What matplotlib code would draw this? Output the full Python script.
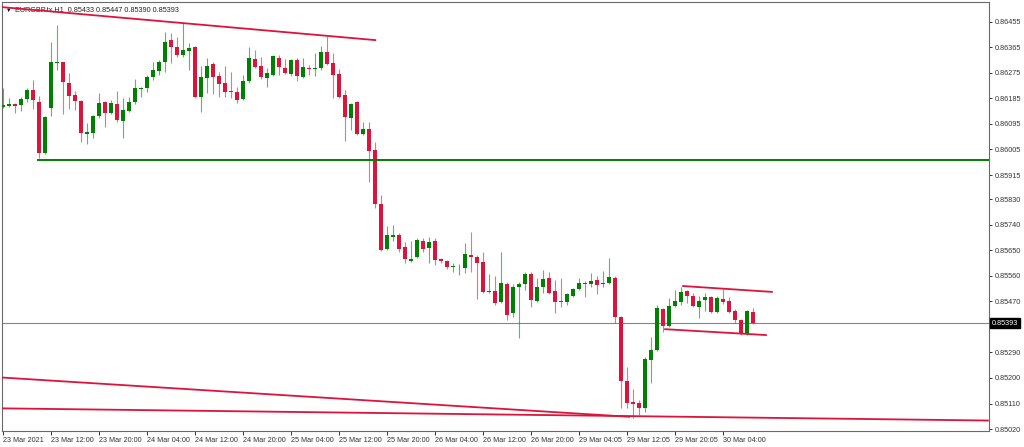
import matplotlib
matplotlib.use("Agg")
import matplotlib.pyplot as plt
import matplotlib.transforms as mtransforms
import numpy as np

# EURGBP H1 candles, bar index 0 = 23 Mar 2021 04:00
opens = [0.86155, 0.86158, 0.86165, 0.86162, 0.86183, 0.86214, 0.86172, 0.85993, 0.86151, 0.86310,
         0.86313, 0.86239, 0.86197, 0.86176, 0.86059, 0.86063, 0.86123, 0.86172, 0.86133, 0.86165,
         0.86105, 0.86140, 0.86172, 0.86218, 0.86221, 0.86260, 0.86281, 0.86313, 0.86391, 0.86366,
         0.86338, 0.86352, 0.86366, 0.86190, 0.86257, 0.86306, 0.86264, 0.86239, 0.86211, 0.86207,
         0.86183, 0.86246, 0.86324, 0.86299, 0.86257, 0.86267, 0.86327, 0.86292, 0.86271, 0.86320,
         0.86260, 0.86292, 0.86288, 0.86292, 0.86348, 0.86310, 0.86271, 0.86197, 0.86116, 0.86172,
         0.86059, 0.86077, 0.86003, 0.85813, 0.85654, 0.85697, 0.85704, 0.85661, 0.85612, 0.85626,
         0.85683, 0.85658, 0.85683, 0.85619, 0.85612, 0.85591, 0.85594, 0.85587, 0.85633, 0.85626,
         0.85609, 0.85503, 0.85506, 0.85468, 0.85531, 0.85429, 0.85520, 0.85531, 0.85566, 0.85471,
         0.85520, 0.85552, 0.85506, 0.85471, 0.85468, 0.85489, 0.85513, 0.85535, 0.85531, 0.85545,
         0.85531, 0.85535, 0.85552, 0.85415, 0.85189, 0.85115, 0.85112, 0.85094, 0.85263, 0.85298,
         0.85443, 0.85383, 0.85454, 0.85468, 0.85506, 0.85489, 0.85450, 0.85475, 0.85485, 0.85432,
         0.85478, 0.85471, 0.85436, 0.85404, 0.85355, 0.85433]
highs = [0.86222, 0.86186, 0.86168, 0.86190, 0.86222, 0.86250, 0.86193, 0.86123, 0.86384, 0.86443,
         0.86313, 0.86274, 0.86211, 0.86179, 0.86098, 0.86126, 0.86204, 0.86176, 0.86179, 0.86211,
         0.86186, 0.86190, 0.86253, 0.86225, 0.86267, 0.86313, 0.86320, 0.86419, 0.86415, 0.86401,
         0.86450, 0.86380, 0.86369, 0.86299, 0.86327, 0.86313, 0.86278, 0.86299, 0.86278, 0.86225,
         0.86267, 0.86366, 0.86355, 0.86331, 0.86292, 0.86338, 0.86338, 0.86324, 0.86324, 0.86327,
         0.86327, 0.86302, 0.86345, 0.86369, 0.86405, 0.86345, 0.86288, 0.86214, 0.86169, 0.86176,
         0.86102, 0.86102, 0.86031, 0.85845, 0.85735, 0.85739, 0.85711, 0.85679, 0.85683, 0.85693,
         0.85693, 0.85697, 0.85693, 0.85623, 0.85616, 0.85605, 0.85601, 0.85675, 0.85714, 0.85633,
         0.85644, 0.85566, 0.85559, 0.85644, 0.85538, 0.85531, 0.85538, 0.85573, 0.85573, 0.85552,
         0.85580, 0.85573, 0.85545, 0.85552, 0.85499, 0.85517, 0.85552, 0.85542, 0.85570, 0.85559,
         0.85577, 0.85623, 0.85559, 0.85418, 0.85238, 0.85161, 0.85122, 0.85273, 0.85344, 0.85457,
         0.85447, 0.85482, 0.85510, 0.85520, 0.85510, 0.85499, 0.85489, 0.85499, 0.85488, 0.85489,
         0.85513, 0.85485, 0.85443, 0.85408, 0.85439, 0.85447]
lows = [0.86151, 0.86155, 0.86133, 0.86140, 0.86172, 0.86148, 0.85975, 0.85988, 0.86123, 0.86285,
        0.86130, 0.86148, 0.86144, 0.86031, 0.86024, 0.86045, 0.86116, 0.86084, 0.86130, 0.86102,
        0.86045, 0.86137, 0.86165, 0.86190, 0.86207, 0.86250, 0.86267, 0.86278, 0.86310, 0.86331,
        0.86331, 0.86285, 0.86186, 0.86137, 0.86204, 0.86200, 0.86190, 0.86190, 0.86186, 0.86169,
        0.86179, 0.86239, 0.86292, 0.86253, 0.86225, 0.86264, 0.86267, 0.86271, 0.86264, 0.86246,
        0.86257, 0.86267, 0.86264, 0.86285, 0.86302, 0.86186, 0.86186, 0.86035, 0.86073, 0.86056,
        0.86056, 0.85890, 0.85799, 0.85647, 0.85651, 0.85683, 0.85644, 0.85605, 0.85609, 0.85623,
        0.85644, 0.85605, 0.85598, 0.85605, 0.85584, 0.85573, 0.85563, 0.85570, 0.85573, 0.85478,
        0.85499, 0.85499, 0.85457, 0.85464, 0.85404, 0.85415, 0.85341, 0.85510, 0.85450, 0.85468,
        0.85499, 0.85496, 0.85429, 0.85450, 0.85457, 0.85485, 0.85510, 0.85485, 0.85520, 0.85496,
        0.85520, 0.85531, 0.85394, 0.85094, 0.85094, 0.85059, 0.85070, 0.85080, 0.85182, 0.85295,
        0.85362, 0.85380, 0.85450, 0.85457, 0.85464, 0.85450, 0.85411, 0.85436, 0.85429, 0.85429,
        0.85461, 0.85429, 0.85394, 0.85351, 0.85351, 0.85390]
closes = [0.86162, 0.86165, 0.86158, 0.86183, 0.86214, 0.86179, 0.85993, 0.86119, 0.86313, 0.86313,
          0.86243, 0.86193, 0.86176, 0.86063, 0.86066, 0.86123, 0.86169, 0.86133, 0.86169, 0.86109,
          0.86144, 0.86172, 0.86221, 0.86222, 0.86260, 0.86285, 0.86313, 0.86384, 0.86366, 0.86338,
          0.86355, 0.86362, 0.86190, 0.86260, 0.86299, 0.86260, 0.86236, 0.86207, 0.86207, 0.86179,
          0.86246, 0.86327, 0.86295, 0.86260, 0.86274, 0.86334, 0.86295, 0.86274, 0.86320, 0.86264,
          0.86295, 0.86288, 0.86292, 0.86348, 0.86306, 0.86267, 0.86190, 0.86119, 0.86165, 0.86059,
          0.86077, 0.85999, 0.85813, 0.85651, 0.85704, 0.85704, 0.85654, 0.85619, 0.85619, 0.85686,
          0.85654, 0.85679, 0.85616, 0.85612, 0.85591, 0.85594, 0.85594, 0.85637, 0.85626, 0.85605,
          0.85503, 0.85506, 0.85464, 0.85535, 0.85422, 0.85520, 0.85531, 0.85566, 0.85475, 0.85520,
          0.85549, 0.85499, 0.85468, 0.85468, 0.85496, 0.85513, 0.85535, 0.85531, 0.85542, 0.85527,
          0.85535, 0.85556, 0.85415, 0.85189, 0.85112, 0.85108, 0.85094, 0.85267, 0.85298, 0.85447,
          0.85383, 0.85454, 0.85471, 0.85503, 0.85489, 0.85454, 0.85471, 0.85485, 0.85432, 0.85482,
          0.85468, 0.85432, 0.85404, 0.85355, 0.85436, 0.85393]

xtick_bars = [0, 8, 16, 24, 32, 40, 48, 56, 64, 72, 80, 88, 96, 104, 112, 120]
xtick_labels = ["23 Mar 2021", "23 Mar 12:00", "23 Mar 20:00", "24 Mar 04:00", "24 Mar 12:00",
                "24 Mar 20:00", "25 Mar 04:00", "25 Mar 12:00", "25 Mar 20:00", "26 Mar 04:00",
                "26 Mar 12:00", "26 Mar 20:00", "29 Mar 04:05", "29 Mar 12:05", "29 Mar 20:05",
                "30 Mar 04:00"]
ytick_prices = [0.86455, 0.86365, 0.86275, 0.86185, 0.86095, 0.86005, 0.85915, 0.85830,
                0.85740, 0.85650, 0.85560, 0.85470, 0.85290, 0.85200, 0.85110, 0.85020]

# drawn objects: trend lines (bar, price) pairs and horizontal support
trend_top = [(-1.0, 0.86508), (62.2, 0.86390)]
trend_low_a = [(-0.5, 0.85202), (104.5, 0.85063)]
trend_low_b = [(-0.5, 0.85093), (164.3, 0.85050)]
channel_up = [(113.2, 0.85524), (128.3, 0.85503)]
channel_dn = [(110.2, 0.85372), (127.3, 0.85351)]
support_start, support_price = 5.9, 0.85968
last_price = 0.85393

BULL = "#008000"
BEAR = "#dc143c"
DOJI = "#3030c8"

fig = plt.figure(figsize=(10.24, 4.47), dpi=100)
ax = fig.add_axes([2 / 1024, 16.5 / 447, 987 / 1024, 428.5 / 447])
ax.set_xlim(-0.167, 164.33)
ax.set_ylim(0.850149, 0.865245)

o = np.array(opens)
h = np.array(highs)
l = np.array(lows)
c = np.array(closes)
idx = np.arange(len(o))
cols = np.where(c > o, BULL, np.where(c < o, BEAR, DOJI))

ax.vlines(idx, l, h, colors=cols, linewidth=0.8, alpha=0.6, zorder=3)
body_lo = np.minimum(o, c)
body_h = np.maximum(np.abs(c - o), 0.00002)
ax.bar(idx, body_h, bottom=body_lo, width=0.62, color=cols, linewidth=0, zorder=4)

for line in (trend_top, trend_low_a, trend_low_b, channel_up, channel_dn):
    xs, ys = zip(*line)
    ax.plot(xs, ys, color=BEAR, linewidth=1.3, solid_capstyle="butt", zorder=5)

ax.plot([support_start, 164.33], [support_price, support_price], color=BULL, linewidth=1.4, zorder=5)
ax.axhline(last_price, color="#778899", linewidth=0.8, zorder=2)

for s in ax.spines.values():
    s.set_color("#6a6a6a")
    s.set_linewidth(0.8)

font = ["Liberation Sans", "DejaVu Sans"]
ax.yaxis.tick_right()
ax.set_yticks(ytick_prices)
ax.set_yticklabels([f"{p:.5f}" for p in ytick_prices], fontsize=5.2, family=font)
ax.tick_params(axis="y", direction="out", length=2.5, width=0.7, pad=1.5, colors="#333333")
ax.set_xticks(xtick_bars)
ax.set_xticklabels(xtick_labels, fontsize=5.2, family=font, ha="left")
ax.tick_params(axis="x", direction="out", length=3, width=0.7, pad=1.5, colors="#333333")

# last price box on the price scale
trans = mtransforms.blended_transform_factory(ax.transAxes, ax.transData)
ax.text(1.0025, last_price, f"{last_price:.5f}", transform=trans, fontsize=5.2, family=font,
        color="white", va="center", ha="left", zorder=10, clip_on=False,
        bbox=dict(boxstyle="square,pad=0.25", facecolor="black", edgecolor="black"))

ax.text(0.004, 0.987, "\u25bc", transform=ax.transAxes, fontsize=4, family=font,
        va="top", ha="left", zorder=1)
ax.text(0.013, 0.99, "EURGBP.tx,H1  0.85433 0.85447 0.85390 0.85393", transform=ax.transAxes,
        fontsize=5.2, family=font, va="top", ha="left", color="#222222", zorder=1)

fig.savefig("out.png", dpi=100, facecolor="white")
